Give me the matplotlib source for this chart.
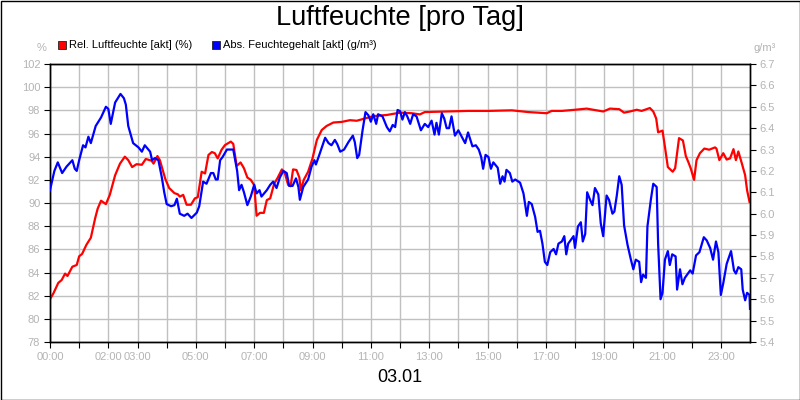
import numpy as np
import matplotlib
matplotlib.use("Agg")
import matplotlib.pyplot as plt
from matplotlib.patches import Rectangle

plt.rcParams["font.family"] = ["Liberation Sans", "DejaVu Sans"]

# relative humidity (%), time in minutes after midnight
rel_minutes = [0, 7, 17, 24, 31, 36, 46, 55, 60, 66, 75, 84, 93, 98, 105, 115,
               123, 134, 144, 154, 161, 169, 178, 189, 197, 209, 213, 221, 226,
               237, 245, 256, 263, 267, 274, 281, 290, 298, 304, 312, 319, 326,
               333, 339, 345, 353, 360, 372, 377, 384, 392, 399, 406, 413, 420,
               425, 432, 440, 446, 453, 461, 468, 477, 483, 490, 495, 500, 507,
               513, 516, 522, 531, 540, 549, 559, 569, 583, 600, 617, 631, 644,
               665, 693, 720, 744, 761, 771, 813, 860, 902, 950, 984, 1022,
               1032, 1053, 1080, 1104, 1138, 1152, 1171, 1181, 1193, 1207, 1217,
               1234, 1241, 1247, 1251, 1260, 1265, 1271, 1281, 1286, 1294, 1302,
               1308, 1313, 1318, 1325, 1330, 1337, 1346, 1356, 1368, 1371, 1377,
               1385, 1392, 1399, 1406, 1411, 1416, 1423, 1430, 1434, 1439]
rel_values = [81.7, 82.2, 83.1, 83.35, 83.9, 83.7, 84.5, 84.65, 85.4, 85.6,
              86.4, 87.0, 88.7, 89.5, 90.2, 89.9, 90.7, 92.4, 93.4, 94.0, 93.7,
              93.1, 93.35, 93.3, 93.8, 93.65, 93.4, 94.05, 93.7, 92.1, 91.3,
              90.85, 90.75, 90.55, 90.7, 89.85, 89.85, 90.4, 90.5, 92.7, 92.55,
              94.15, 94.4, 94.3, 93.85, 94.6, 95.0, 95.3, 95.1, 93.2, 93.5,
              93.0, 92.2, 92.0, 91.55, 88.9, 89.15, 89.15, 90.25, 90.4, 91.65,
              92.15, 92.9, 92.6, 91.55, 91.45, 92.9, 92.85, 92.2, 91.1, 92.0,
              92.7, 93.85, 95.45, 96.3, 96.65, 96.95, 97.0, 97.15, 97.1, 97.25,
              97.5, 97.6, 97.8, 97.75, 97.65, 97.85, 97.9, 97.95, 97.95, 98.0,
              97.85, 97.75, 97.95, 97.95, 98.05, 98.15, 97.9, 98.15, 98.1, 97.8,
              97.9, 98.05, 97.95, 98.2, 97.9, 97.3, 96.1, 96.25, 94.85, 93.1,
              92.7, 93.0, 95.6, 95.4, 94.05, 93.55, 93.0, 92.0, 93.7, 94.3,
              94.7, 94.6, 94.8, 94.7, 93.7, 94.3, 93.75, 93.85, 94.65, 93.7,
              94.45, 93.45, 92.4, 91.1, 90.1]

# absolute humidity (g/m³)
abs_minutes = [0, 9, 16, 25, 34, 46, 51, 55, 60, 68, 73, 79, 84, 94, 105, 115,
               120, 125, 134, 145, 152, 156, 161, 171, 182, 189, 195, 206, 210,
               216, 223, 230, 235, 240, 249, 256, 261, 267, 276, 283, 291, 302,
               307, 315, 322, 331, 336, 341, 345, 350, 355, 364, 377, 385, 389,
               394, 399, 406, 413, 420, 425, 431, 435, 446, 453, 459, 466, 473,
               480, 487, 492, 499, 506, 511, 514, 521, 531, 538, 544, 547, 554,
               566, 573, 579, 586, 591, 597, 605, 614, 623, 627, 632, 636, 643,
               649, 655, 660, 665, 671, 675, 684, 693, 699, 705, 710, 715, 720,
               725, 730, 735, 741, 747, 754, 763, 771, 778, 785, 791, 795, 800,
               806, 811, 816, 821, 826, 833, 840, 847, 854, 860, 869, 876, 882,
               887, 891, 896, 902, 907, 912, 921, 926, 931, 935, 939, 946, 951,
               957, 967, 974, 981, 985, 991, 998, 1003, 1008, 1013, 1018, 1023,
               1029, 1036, 1041, 1046, 1053, 1058, 1062, 1066, 1077, 1080, 1086,
               1092, 1096, 1101, 1105, 1111, 1116, 1121, 1128, 1133, 1138, 1145,
               1150, 1157, 1161, 1166, 1171, 1176, 1181, 1188, 1195, 1200, 1205,
               1212, 1216, 1220, 1226, 1229, 1236, 1241, 1248, 1251, 1256, 1260,
               1265, 1271, 1275, 1280, 1287, 1290, 1296, 1301, 1306, 1317, 1322,
               1329, 1336, 1345, 1351, 1358, 1364, 1370, 1375, 1380, 1385, 1392,
               1401, 1407, 1411, 1416, 1422, 1425, 1430, 1434, 1439, 1440]
abs_values = [6.11, 6.2, 6.24, 6.19, 6.22, 6.25, 6.21, 6.2, 6.25, 6.32, 6.31,
              6.36, 6.33, 6.41, 6.45, 6.5, 6.49, 6.42, 6.52, 6.56, 6.54, 6.51,
              6.41, 6.33, 6.31, 6.29, 6.32, 6.29, 6.25, 6.26, 6.25, 6.17, 6.1,
              6.045, 6.035, 6.04, 6.07, 6.0, 5.99, 6.0, 5.98, 6.005, 6.035,
              6.15, 6.14, 6.19, 6.19, 6.16, 6.16, 6.25, 6.265, 6.3, 6.3, 6.2,
              6.11, 6.135, 6.1, 6.04, 6.08, 6.135, 6.095, 6.11, 6.08, 6.11,
              6.135, 6.15, 6.12, 6.17, 6.2, 6.19, 6.13, 6.13, 6.165, 6.125,
              6.065, 6.125, 6.16, 6.22, 6.25, 6.23, 6.275, 6.355, 6.33, 6.32,
              6.345, 6.325, 6.29, 6.3, 6.335, 6.365, 6.335, 6.26, 6.275, 6.39,
              6.475, 6.46, 6.43, 6.465, 6.42, 6.465, 6.455, 6.405, 6.385, 6.415,
              6.405, 6.485, 6.48, 6.44, 6.475, 6.455, 6.42, 6.465, 6.455, 6.39,
              6.42, 6.405, 6.435, 6.37, 6.425, 6.37, 6.47, 6.445, 6.4, 6.4,
              6.455, 6.365, 6.39, 6.36, 6.33, 6.38, 6.315, 6.32, 6.3, 6.265,
              6.21, 6.275, 6.265, 6.21, 6.24, 6.215, 6.14, 6.175, 6.15, 6.205,
              6.19, 6.15, 6.16, 6.145, 6.095, 5.99, 6.055, 6.045, 5.985, 5.915,
              5.92, 5.86, 5.775, 5.76, 5.82, 5.835, 5.81, 5.86, 5.87, 5.895,
              5.81, 5.86, 5.895, 5.84, 5.94, 5.96, 5.87, 5.905, 6.1, 6.065, 6.04,
              6.12, 6.09, 5.955, 5.895, 6.085, 6.065, 6.0, 6.01, 6.085, 6.175,
              6.135, 5.945, 5.855, 5.785, 5.74, 5.785, 5.775, 5.68, 5.715, 5.7,
              5.94, 6.065, 6.14, 6.125, 5.86, 5.6, 5.63, 5.785, 5.825, 5.76,
              5.81, 5.8, 5.645, 5.74, 5.67, 5.7, 5.735, 5.72, 5.805, 5.82, 5.89,
              5.875, 5.84, 5.785, 5.87, 5.82, 5.62, 5.675, 5.765, 5.825, 5.735,
              5.72, 5.75, 5.74, 5.645, 5.595, 5.63, 5.62, 5.555]

hour_labels = {0: "00:00", 2: "02:00", 3: "03:00", 5: "05:00", 7: "07:00",
               9: "09:00", 11: "11:00", 13: "13:00", 15: "15:00", 17: "17:00",
               19: "19:00", 21: "21:00", 23: "23:00"}

TICK_GREY = "#b4b4b4"
GRID_GREY = "#c0c0c0"

fig = plt.figure(figsize=(8, 4), dpi=100)
ax = fig.add_axes([50 / 800, 58 / 400, 700 / 800, 278 / 400])
ax2 = ax.twinx()

ax.plot(rel_minutes, rel_values, color="#ff0000", lw=1.6, zorder=3)
ax2.plot(abs_minutes, abs_values, color="#0000ff", lw=1.6, zorder=3)

ax.set_xlim(0, 1440)
ax.set_ylim(78, 102)
ax2.set_ylim(5.4, 6.7)

hours = np.arange(0, 24)
ax.set_xticks(hours * 60)
ax.set_xticklabels([hour_labels.get(h, "") for h in hours])
ax.set_yticks(np.arange(78, 103, 2))
ax2.set_yticks(np.round(np.arange(5.4, 6.75, 0.1), 1))
ax2.set_yticklabels([f"{v:.1f}" for v in np.arange(5.4, 6.75, 0.1)])

ax.grid(True, color=GRID_GREY, lw=1.0)
ax.set_axisbelow(True)
for a in (ax, ax2):
    a.tick_params(colors="black", labelcolor=TICK_GREY, labelsize=8,
                  length=4, width=0.8, pad=3)
    for sp in a.spines.values():
        sp.set_color("black")
        sp.set_linewidth(1.0)

fig.text(400 / 800, 1 - 18 / 400, "Luftfeuchte [pro Tag]",
         ha="center", va="center", fontsize=19.6, color="black")
fig.text(400 / 800, 1 - 377 / 400, "03.01", ha="center", va="center",
         fontsize=13, color="black")
fig.text(42 / 800, 1 - 48 / 400, "%", ha="center", va="center",
         fontsize=8, color=TICK_GREY)
fig.text(765 / 800, 1 - 48 / 400, "g/m³", ha="center", va="center",
         fontsize=8, color=TICK_GREY)

# legend
for x0, col, label in [(58, "#ff0000", "Rel. Luftfeuchte [akt] (%)"),
                       (212, "#0000ff", "Abs. Feuchtegehalt [akt] (g/m³)")]:
    fig.patches.append(Rectangle((x0 / 800, 1 - 49 / 400), 8 / 800, 8 / 400,
                                 transform=fig.transFigure, facecolor=col,
                                 edgecolor="#222222", lw=0.6))
    fig.text((x0 + 11) / 800, 1 - 45 / 400, label, ha="left", va="center",
             fontsize=8, color="black")

fig.patches.append(Rectangle((0.5 / 800, 0.5 / 400), 799 / 800, 399 / 400,
                             transform=fig.transFigure, fill=False,
                             edgecolor="black", lw=1.0))

fig.savefig("out.png", dpi=100)
